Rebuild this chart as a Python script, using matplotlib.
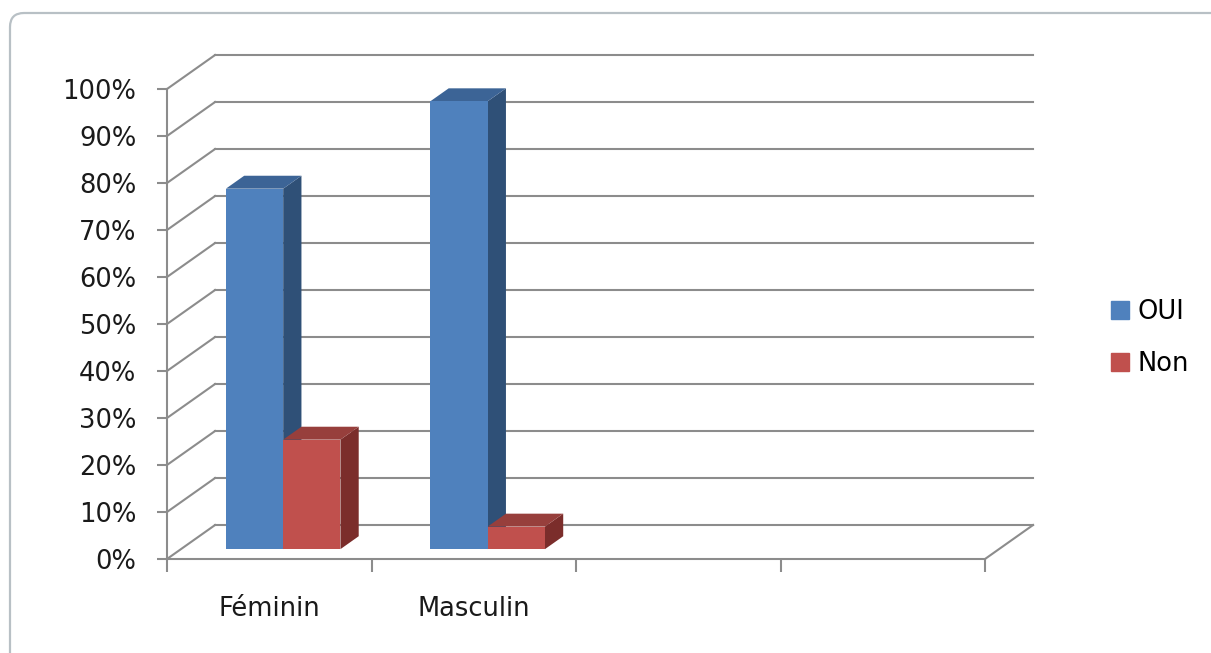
import matplotlib.pyplot as plt
import matplotlib.patches as mpatches
from matplotlib.patches import Polygon
from matplotlib.transforms import IdentityTransform

# --- data ---
categories = ["Féminin", "Masculin", "", ""]
series_names = ["OUI", "Non"]
oui_values = [76.7, 95.3]
non_values = [23.3, 4.8]
y_ticks = list(range(0, 101, 10))
y_tick_labels = [f"{t}%" for t in y_ticks]

front_colors = ["#4F81BD", "#C0504D"]
top_colors = ["#3C6496", "#973F3C"]
side_colors = ["#2F5077", "#7B2D2B"]
grid_color = "#8C8C8C"

# --- oblique 3D look (in data units) ---
DX, DY = 0.235, 7.23        # full wall depth
bar_w = 0.28
f0, f1 = 0.29, 0.67         # bar front / back depth fraction

fig = plt.figure(figsize=(12.11, 6.53), dpi=100)
W, H = 1211, 653
ax = fig.add_axes([167 / W, (H - 559) / H, 818 / W, 470 / H])
ax.set_xlim(0, 4)
ax.set_ylim(0, 100)
ax.patch.set_visible(False)
for s in ["top", "right"]:
    ax.spines[s].set_visible(False)
for s in ["left", "bottom"]:
    ax.spines[s].set_color(grid_color)
    ax.spines[s].set_linewidth(1.5)

# side wall diagonals + back wall gridlines
for v in y_ticks:
    ax.plot([0, DX], [v, v + DY], color=grid_color, lw=1.5, clip_on=False, zorder=1)
    ax.plot([DX, 4 + DX], [v + DY, v + DY], color=grid_color, lw=1.5, clip_on=False, zorder=1)
# floor right edge
ax.plot([4, 4 + DX], [0, DY], color=grid_color, lw=1.5, clip_on=False, zorder=1)

# bars
for i in range(len(oui_values)):
    for j, vals in enumerate([oui_values, non_values]):
        v = vals[i]
        x = i + 0.5 - bar_w + j * bar_w + f0 * DX
        y0 = f0 * DY
        y1 = y0 + v
        ddx = (f1 - f0) * DX
        ddy = (f1 - f0) * DY
        front = Polygon([(x, y0), (x + bar_w, y0), (x + bar_w, y1), (x, y1)],
                        closed=True, fc=front_colors[j], ec="none", clip_on=False, zorder=3)
        side = Polygon([(x + bar_w, y0), (x + bar_w + ddx, y0 + ddy),
                        (x + bar_w + ddx, y1 + ddy), (x + bar_w, y1)],
                       closed=True, fc=side_colors[j], ec="none", clip_on=False, zorder=3)
        top = Polygon([(x, y1), (x + bar_w, y1), (x + bar_w + ddx, y1 + ddy), (x + ddx, y1 + ddy)],
                      closed=True, fc=top_colors[j], ec="none", clip_on=False, zorder=3)
        ax.add_patch(side)
        ax.add_patch(top)
        ax.add_patch(front)

# axes ticks
ax.set_yticks(y_ticks)
ax.set_yticklabels(y_tick_labels)
ax.tick_params(axis="y", direction="out", length=7.2, width=1.5, color=grid_color,
               pad=15, labelsize=18.5, labelcolor="#1a1a1a")
ax.set_xticks(range(5))
ax.set_xticklabels([])
ax.tick_params(axis="x", which="major", direction="out", length=9, width=1.5, color=grid_color)
ax.set_xticks([0.5, 1.5, 2.5, 3.5], minor=True)
ax.set_xticklabels(categories, minor=True)
ax.tick_params(axis="x", which="minor", length=0, pad=27, labelsize=18.5, labelcolor="#1a1a1a")

# legend
handles = [mpatches.Patch(color=front_colors[k], label=series_names[k]) for k in range(2)]
fig.legend(handles=handles, loc="center left", bbox_to_anchor=(1098 / W, (H - 338) / H),
           frameon=False, fontsize=18.5, handlelength=0.7, handleheight=0.7,
           handletextpad=0.35, labelspacing=1.0, borderpad=0)

# outer chart frame
frame = mpatches.FancyBboxPatch((10, -30), 1250, H - 13 + 30,
                                boxstyle="round,pad=0,rounding_size=14",
                                transform=IdentityTransform(), fc="none",
                                ec="#B8C0C5", lw=1.6)
fig.patches.append(frame)

fig.savefig("out.png", dpi=100)
